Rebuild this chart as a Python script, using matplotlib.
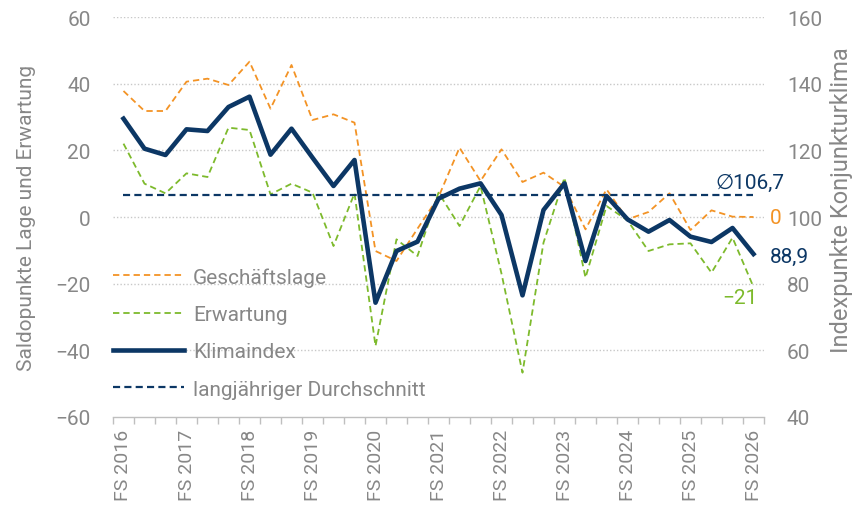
import matplotlib
matplotlib.use("Agg")
import matplotlib.pyplot as plt
import numpy as np

plt.rcParams['font.family'] = ['Roboto', 'DejaVu Sans']

tick_labels = ["FS 2016", "FS 2017", "FS 2018", "FS 2019", "FS 2020", "FS 2021",
               "FS 2022", "FS 2023", "FS 2024", "FS 2025", "FS 2026"]

geschaeftslage = [37.8, 31.8, 31.8, 40.6, 41.5, 39.6, 46.6, 32.5, 45.6, 29.1, 30.8,
                  28.3, -10.2, -13.2, -3.5, 6.0, 20.8, 10.8, 20.3, 10.5, 13.3,
                  9.0, -3.7, 8.3, -0.7, 1.5, 7.1, -3.9, 2.0, 0.1, 0.0]
erwartung = [22.0, 10.0, 7.1, 13.1, 12.0, 26.8, 26.1, 6.8, 10.0, 7.3, -8.7,
             7.1, -38.7, -6.7, -11.7, 7.3, -2.7, 9.3, -17.0, -46.7, -7.7,
             11.8, -18.2, 3.3, -1.0, -10.2, -8.2, -7.9, -16.7, -6.2, -21.0]
klimaindex = [129.5, 120.5, 118.6, 126.3, 125.8, 133.0, 136.1, 118.7, 126.5, 117.8, 109.3,
              117.1, 74.3, 89.8, 92.6, 105.5, 108.5, 110.1, 100.6, 76.5, 102.1,
              110.1, 86.8, 106.3, 99.3, 95.6, 99.1, 94.1, 92.5, 96.7, 88.9]
durchschnitt = 106.7

ORANGE = "#f39325"
GREEN = "#7dba2c"
NAVY = "#0c3765"
GRAY = "#878787"
GRID = "#c8c8c8"

n = len(klimaindex)
x = np.arange(n)

fig = plt.figure(figsize=(8.63, 5.06), dpi=100)
ax = fig.add_axes([113/863, 1-418/506, (764-113)/863, 400/506])
ax2 = ax.twinx()

ax.set_xlim(-0.5, n - 0.5)
ax.set_ylim(-60, 60)
ax2.set_ylim(40, 160)

for v in [60, 40, 20, 0, -20, -40]:
    ax.axhline(v, color=GRID, lw=1.0, ls=(0, (1, 1.5)), zorder=0)

l1, = ax.plot(x, geschaeftslage, color=ORANGE, lw=1.3, dashes=(3.5, 2.2), zorder=2,
              label="Geschäftslage")
l2, = ax.plot(x, erwartung, color=GREEN, lw=1.3, dashes=(3.5, 2.2), zorder=2,
              label="Erwartung")
l4, = ax2.plot([x[0], x[-1]], [durchschnitt, durchschnitt], color=NAVY, lw=1.6,
               dashes=(3.2, 1.9), zorder=3, label="langjähriger Durchschnitt")
l3, = ax2.plot(x, klimaindex, color=NAVY, lw=3.3, zorder=4, label="Klimaindex")

for a in (ax, ax2):
    for s in ["top", "left", "right", "bottom"]:
        a.spines[s].set_visible(False)
ax.spines["bottom"].set_visible(True)
ax.spines["bottom"].set_color("#bfbfbf")
ax.spines["bottom"].set_linewidth(1.0)

ax.set_yticks([-60, -40, -20, 0, 20, 40, 60])
ax.tick_params(axis="y", length=0, pad=16, labelsize=15, labelcolor=GRAY)
ax2.set_yticks([40, 60, 80, 100, 120, 140, 160])
ax2.tick_params(axis="y", length=0, pad=16.5, labelsize=15, labelcolor=GRAY)

ax.set_xticks(np.arange(0, n, 3))
ax.set_xticklabels(tick_labels, rotation=90, fontsize=14, color=GRAY)
ax.set_xticks(np.arange(-0.5, n, 1), minor=True)
ax.tick_params(axis="x", which="major", length=0, pad=8.5)
ax.tick_params(axis="x", which="minor", length=5, color="#bfbfbf", width=1.0)

ax.set_ylabel("Saldopunkte Lage und Erwartung", fontsize=15, color=GRAY)
ax.yaxis.set_label_coords(-77/651, 0.5)
ax2.set_ylabel("Indexpunkte Konjunkturklima", fontsize=17, color=GRAY, rotation=90)
ax2.yaxis.set_label_coords(1 + 66/651, 0.545)

ax2.text(28.2, 110.4, "\u2205106,7", color=NAVY, fontsize=15, va="center", ha="left")
ax.text(30.8, 0, "0", color=ORANGE, fontsize=15, va="center", ha="left", clip_on=False)
ax2.text(30.8, 88.2, "88,9", color=NAVY, fontsize=15, va="center", ha="left", clip_on=False)
ax.text(30.2, -24.2, "\u221221", color=GREEN, fontsize=15, va="center", ha="right", clip_on=False)

leg = ax2.legend(handles=[l1, l2, l3, l4], loc="upper left", bbox_to_anchor=(0, 0.375),
                 frameon=False, fontsize=15, handlelength=3.4, handletextpad=0.45,
                 labelspacing=0.88, borderpad=0, borderaxespad=0)
for t in leg.get_texts():
    t.set_color(GRAY)

fig.savefig("out.png", dpi=100)
